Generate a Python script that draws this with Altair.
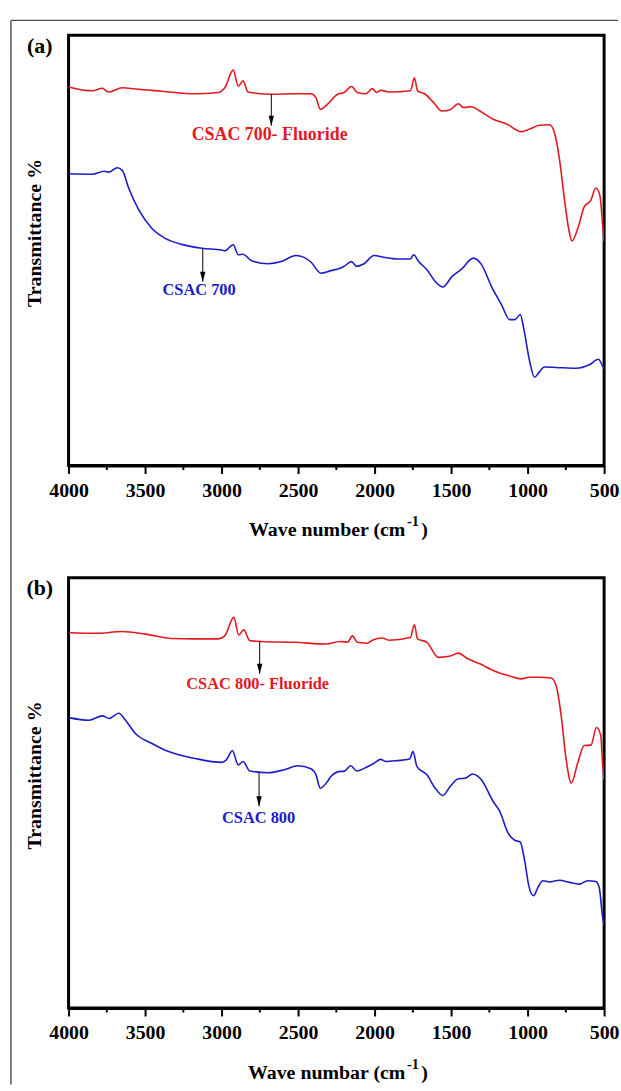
import altair as alt
import pandas as pd

# ---------------- data ----------------
# Panel (a)
a_red_wn = [4000, 3844, 3779, 3740, 3649, 3563, 3390, 3173, 3021, 2979, 2924, 2891, 2859, 2827, 2675,
            2524, 2416, 2383, 2355, 2307, 2242, 2199, 2151, 2112, 2058, 2015, 1987, 1961, 1896, 1766,
            1740, 1719, 1669, 1615, 1560, 1506, 1452, 1420, 1366, 1312, 1225, 1138, 1041, 987, 922,
            857, 825, 792, 760, 732, 710, 672, 630, 586, 554, 528, 511, 500]
a_red_t = [88.0, 87.1, 87.7, 86.8, 87.8, 87.5, 87.0, 86.4, 86.7, 87.8, 91.9, 88.2, 89.4, 86.8, 86.3,
           86.4, 86.4, 85.5, 82.8, 84.0, 86.3, 86.7, 88.1, 86.7, 86.4, 87.6, 86.7, 87.2, 86.8, 87.1,
           90.1, 87.1, 86.3, 84.4, 82.4, 82.7, 84.1, 83.2, 83.4, 82.4, 80.5, 79.4, 77.6, 78.2, 79.1,
           79.2, 77.4, 71.3, 62.1, 55.1, 52.2, 55.1, 60.1, 61.7, 64.5, 62.8, 56.7, 52.0]
a_blue_wn = [4000, 3844, 3768, 3736, 3682, 3649, 3606, 3541, 3455, 3368, 3260, 3130, 3000, 2979, 2924,
             2891, 2859, 2805, 2697, 2610, 2513, 2416, 2351, 2286, 2221, 2199, 2151, 2117, 2069, 2004,
             1940, 1853, 1766, 1745, 1712, 1658, 1604, 1554, 1495, 1430, 1355, 1301, 1236, 1171, 1117,
             1084, 1048, 1026, 987, 955, 927, 890, 814, 684, 597, 537, 511, 500]
a_blue_t = [67.8, 67.7, 68.4, 68.2, 69.2, 68.6, 64.4, 59.4, 55.1, 52.8, 51.4, 50.5, 50.1, 49.9, 51.3,
            49.0, 49.1, 47.6, 46.9, 47.4, 48.8, 47.3, 44.7, 45.3, 45.9, 46.3, 47.4, 46.3, 46.9, 48.8,
            48.4, 48.0, 48.0, 49.0, 47.4, 45.5, 42.8, 41.5, 43.9, 45.7, 48.2, 46.7, 41.6, 37.4, 33.9,
            33.9, 35.1, 32.0, 24.3, 20.5, 21.6, 22.9, 22.8, 22.6, 23.4, 24.7, 23.2, 22.4]

# Panel (b)
b_red_wn = [4000, 3823, 3649, 3498, 3325, 3173, 3021, 2979, 2920, 2888, 2855, 2816, 2740, 2524, 2307,
            2286, 2221, 2177, 2145, 2112, 2047, 2015, 1950, 1907, 1766, 1740, 1719, 1658, 1582, 1506,
            1452, 1398, 1312, 1214, 1138, 1041, 987, 922, 846, 814, 781, 749, 714, 673, 630,
            586, 550, 522, 511, 500]
b_red_t = [87.3, 87.1, 87.5, 86.9, 85.9, 85.8, 85.8, 86.5, 90.8, 86.7, 87.9, 85.4, 85.2, 85.0, 84.6,
           84.8, 85.2, 85.0, 86.5, 85.0, 84.8, 85.5, 86.0, 85.5, 86.1, 89.1, 85.8, 85.0, 81.5, 81.8,
           82.5, 81.3, 80.0, 78.3, 77.4, 76.5, 76.9, 76.9, 76.7, 75.0, 68.1, 58.0, 52.3, 56.9, 61.0,
           61.1, 65.2, 63.4, 57.3, 53.0]
b_blue_wn = [4000, 3866, 3779, 3736, 3671, 3628, 3563, 3455, 3346, 3173, 3000, 2970, 2929, 2891, 2859,
             2816, 2697, 2589, 2502, 2416, 2383, 2355, 2307, 2286, 2221, 2199, 2156, 2117, 2047, 2004,
             1961, 1926, 1853, 1771, 1749, 1723, 1658, 1604, 1554, 1506, 1452, 1409, 1359, 1301, 1225,
             1182, 1128, 1084, 1048, 1019, 992, 961, 933, 901, 857, 792, 727, 662, 608, 554,
             532, 511, 500]
b_blue_t = [67.5, 66.9, 67.9, 67.3, 68.5, 66.9, 63.8, 61.5, 59.6, 58.0, 57.1, 57.6, 59.8, 56.5, 57.3,
            55.1, 54.7, 55.4, 56.3, 55.6, 54.2, 51.1, 52.7, 53.8, 55.0, 55.0, 56.3, 55.1, 56.1, 56.9,
            57.8, 57.3, 57.5, 57.9, 59.6, 56.1, 54.2, 51.1, 49.4, 51.5, 53.3, 53.4, 54.4, 53.0, 48.0,
            45.7, 40.7, 39.0, 38.6, 34.2, 28.4, 26.1, 28.0, 29.6, 29.3, 29.7, 29.2, 28.8, 29.6, 29.4,
            28.0, 21.5, 19.2]

# annotations: label, label position (wn, T), arrow (wn, from T, to T), font size
a_ann_labels = ["CSAC 700- Fluoride", "CSAC 700"]
a_ann_wn = [2686, 3147]
a_ann_t = [76.9, 40.8]
a_arrow_wn = [2675, 3123]
a_arrow_from = [86.3, 50.6]
a_arrow_to = [79.0, 42.7]
a_ann_size = [18, 16.5]

b_ann_labels = ["CSAC 800- Fluoride", "CSAC 800"]
b_ann_wn = [2764, 2758]
b_ann_t = [75.4, 44.2]
b_arrow_wn = [2751, 2755]
b_arrow_from = [85.2, 54.7]
b_arrow_to = [77.7, 46.9]
b_ann_size = [16.5, 16.5]

major_ticks = [4000, 3500, 3000, 2500, 2000, 1500, 1000, 500]
minor_ticks = [3750, 3250, 2750, 2250, 1750, 1250, 750]

FONT = "Liberation Serif"
RED = "#e3191f"
BLUE = "#1c1cc8"
W, H = 539, 433


def one():
    return alt.Chart(pd.DataFrame({"k": [0]}))


def panel(letter, xtitle_main, rw, rt, bw, bt, labels, lwn, lt, awn, afrom, ato, lsize, frame):
    xs = alt.Scale(domain=[4000, 500], nice=False, zero=False)
    ys = alt.Scale(domain=[0, 100], nice=False, zero=False)
    ax = alt.Axis(values=major_ticks, title=None, format="d", labelFlush=False,
                  labelOverlap=False, grid=False)
    X = alt.X("wn:Q", scale=xs, axis=ax)

    df = pd.concat([
        pd.DataFrame({"wn": rw, "T": rt, "s": "r"}),
        pd.DataFrame({"wn": bw, "T": bt, "s": "b"}),
    ])
    lines = alt.Chart(df).mark_line(strokeWidth=1.6, interpolate="monotone", clip=True).encode(
        x=X,
        y=alt.Y("T:Q", scale=ys, axis=None),
        color=alt.Color("s:N", scale=alt.Scale(domain=["r", "b"], range=[RED, BLUE]), legend=None),
    )

    minor = alt.Chart(pd.DataFrame({"wn": minor_ticks})).mark_rule(color="black", strokeWidth=2).encode(
        x=X, y=alt.value(H), y2=alt.value(H + 4.5))

    arr = pd.DataFrame({"wn": awn, "T": afrom, "T2": ato})
    arrow_line = alt.Chart(arr).mark_rule(color="black", strokeWidth=1).encode(
        x=X, y=alt.Y("T:Q", scale=ys, axis=None), y2="T2:Q")
    arrow_head = alt.Chart(arr).mark_point(
        shape="M-0.27,-1L0.27,-1L0,0Z", size=400, filled=True, color="black", opacity=1, strokeWidth=0
    ).encode(x=X, y=alt.Y("T2:Q", scale=ys, axis=None))

    ann = pd.DataFrame({"wn": lwn, "T": lt, "label": labels, "c": [RED, BLUE], "fs": lsize})
    ann_text = alt.Chart(ann).mark_text(font=FONT, fontWeight="bold", baseline="middle", align="center").encode(
        x=X, y=alt.Y("T:Q", scale=ys, axis=None), text="label:N",
        color=alt.Color("c:N", scale=None), size=alt.Size("fs:Q", scale=None))

    letter_t = one().mark_text(text=letter, font=FONT, fontSize=22, fontWeight="bold", color="black",
                               align="center", baseline="middle").encode(
        x=alt.value(-29), y=alt.value(10.5))
    ytitle = one().mark_text(text="Transmittance %", font=FONT, fontSize=20, fontWeight="bold",
                             color="black", angle=270, align="center", baseline="middle").encode(
        x=alt.value(-34), y=alt.value(199))
    xt1 = one().mark_text(text=xtitle_main, font=FONT, fontSize=20, fontWeight="bold", color="black",
                          align="right", baseline="alphabetic").encode(x=alt.value(339), y=alt.value(504))
    xt2 = one().mark_text(text="-1", font=FONT, fontSize=14.5, fontWeight="bold", color="black",
                          align="left", baseline="alphabetic").encode(x=alt.value(340.5), y=alt.value(494))
    xt3 = one().mark_text(text=")", font=FONT, fontSize=20, fontWeight="bold", color="black",
                          align="left", baseline="alphabetic").encode(x=alt.value(355), y=alt.value(504))

    layers = [lines, minor, arrow_line, arrow_head, ann_text, letter_t, ytitle, xt1, xt2, xt3]
    for (x1, x2, y1, y2) in frame:
        enc = {"x": alt.value(x1), "y": alt.value(y1)}
        if x2 is not None:
            enc["x2"] = alt.value(x2)
        if y2 is not None:
            enc["y2"] = alt.value(y2)
        layers.append(one().mark_rule(color="#4d4d4d", strokeWidth=1.4).encode(**enc))
    return alt.layer(*layers).properties(width=W, height=H)


# outer frame: top edge and left edge of the whole figure (relative to panel (a) plot)
pa = panel("(a)", "Wave number (cm", a_red_wn, a_red_t, a_blue_wn, a_blue_t,
           a_ann_labels, a_ann_wn, a_ann_t, a_arrow_wn, a_arrow_from, a_arrow_to, a_ann_size,
           [(-58, 553, -15, None), (-58, None, -15, 1056)])
pb = panel("(b)", "Wave numbar (cm", b_red_wn, b_red_t, b_blue_wn, b_blue_t,
           b_ann_labels, b_ann_wn, b_ann_t, b_arrow_wn, b_arrow_from, b_arrow_to, b_ann_size,
           [])

chart = alt.vconcat(pa, pb, spacing=113, bounds="flush").properties(
    padding={"left": 8, "top": 14, "right": 0, "bottom": 0},
    background="white",
).configure_view(
    stroke="black", strokeWidth=3
).configure_axis(
    domainColor="black", domainWidth=3, tickColor="black", tickWidth=2, tickSize=8,
    labelFont=FONT, labelFontWeight="bold", labelFontSize=20, labelColor="black", labelPadding=7,
)

chart.save("out.html", embed_options={"renderer": "svg", "actions": False})
